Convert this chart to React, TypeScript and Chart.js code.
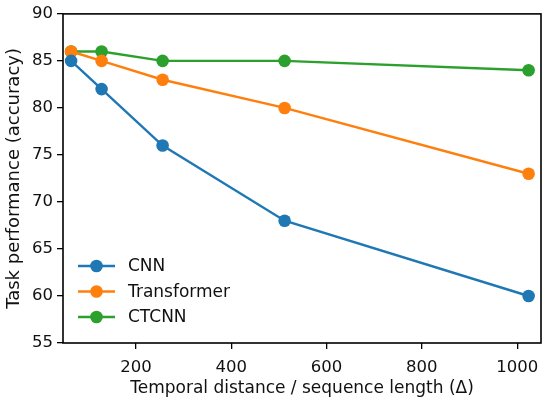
import { useEffect, useRef } from "react";
import { Chart, registerables, type Plugin } from "chart.js";

Chart.register(...registerables);

const distances = [64, 128, 256, 512, 1024];
const cnnAcc = [85, 82, 76, 68, 60];
const transformerAcc = [86, 85, 83, 80, 73];
const ctcnnAcc = [86, 86, 85, 85, 84];
const xTicks = [200, 400, 600, 800, 1000];

const seriesNames = ["CNN", "Transformer", "CTCNN"];
const seriesColors = ["#1f77b4", "#ff7f0e", "#2ca02c"];

const FONT = "'DejaVu Sans', sans-serif";

const frame: Plugin = {
  id: "frame",
  afterDraw(chart) {
    const { ctx, chartArea: a } = chart;
    ctx.save();
    ctx.strokeStyle = "#000";
    ctx.lineWidth = 1.6;
    ctx.strokeRect(a.left, a.top, a.right - a.left, a.bottom - a.top);
    ctx.restore();
  },
};

const lineLegend: Plugin = {
  id: "lineLegend",
  afterDraw(chart) {
    const { ctx, chartArea: a } = chart;
    ctx.save();
    ctx.font = `17px ${FONT}`;
    ctx.textBaseline = "middle";
    chart.data.datasets.forEach((ds, i) => {
      const y = a.bottom - 77 + i * 25.5;
      const x0 = a.left + 15;
      const color = ds.borderColor as string;
      ctx.strokeStyle = color;
      ctx.lineWidth = 2.4;
      ctx.beginPath();
      ctx.moveTo(x0, y);
      ctx.lineTo(x0 + 37, y);
      ctx.stroke();
      ctx.fillStyle = color;
      ctx.beginPath();
      ctx.arc(x0 + 18.5, y, 6.3, 0, Math.PI * 2);
      ctx.fill();
      ctx.fillStyle = "#111";
      ctx.fillText(ds.label ?? "", x0 + 50, y + 1);
    });
    ctx.restore();
  },
};

export default function App() {
  const canvasRef = useRef<HTMLCanvasElement>(null);

  useEffect(() => {
    document.body.style.margin = "0";
    if (!canvasRef.current) return;
    const values = [cnnAcc, transformerAcc, ctcnnAcc];
    const chart = new Chart(canvasRef.current, {
      type: "line",
      data: {
        datasets: values.map((vals, i) => ({
          label: seriesNames[i],
          data: vals.map((v, j) => ({ x: distances[j], y: v })),
          borderColor: seriesColors[i],
          backgroundColor: seriesColors[i],
          borderWidth: 2.4,
          pointRadius: 6.3,
          pointHoverRadius: 6.3,
          pointBorderWidth: 0,
          tension: 0,
        })),
      },
      options: {
        animation: false,
        responsive: false,
        devicePixelRatio: 1,
        layout: { padding: { top: 12, right: 9, left: 0, bottom: 5 } },
        plugins: {
          legend: { display: false },
          tooltip: { enabled: false },
        },
        scales: {
          x: {
            type: "linear",
            min: 47,
            max: 1050,
            afterBuildTicks: (s) => {
              s.ticks = xTicks.map((v) => ({ value: v }));
            },
            afterFit: (s) => {
              s.height = 56;
            },
            border: { display: false },
            grid: {
              drawOnChartArea: false,
              drawTicks: true,
              tickLength: 6,
              color: "#000",
              lineWidth: 1.3,
            },
            ticks: {
              color: "#111",
              font: { family: FONT, size: 16.5 },
              padding: 9,
              callback: (v) => String(v),
            },
            title: {
              display: true,
              text: "Temporal distance / sequence length (Δ)",
              color: "#111",
              font: { family: FONT, size: 17 },
              padding: { top: 4, bottom: 0 },
            },
          },
          y: {
            type: "linear",
            min: 55,
            max: 90,
            afterFit: (s) => {
              s.width = 63;
            },
            border: { display: false },
            grid: {
              drawOnChartArea: false,
              drawTicks: true,
              tickLength: 6,
              color: "#000",
              lineWidth: 1.3,
            },
            ticks: { stepSize: 5, color: "#111", font: { family: FONT, size: 16.5 }, padding: 4 },
            title: {
              display: true,
              text: "Task performance (accuracy)",
              color: "#111",
              font: { family: FONT, size: 18 },
              padding: { top: 4, bottom: 2 },
            },
          },
        },
      },
      plugins: [frame, lineLegend],
    });
    return () => chart.destroy();
  }, []);

  return (
    <div style={{ width: 550, height: 404, background: "#fff" }}>
      <canvas ref={canvasRef} width={550} height={404} />
    </div>
  );
}
